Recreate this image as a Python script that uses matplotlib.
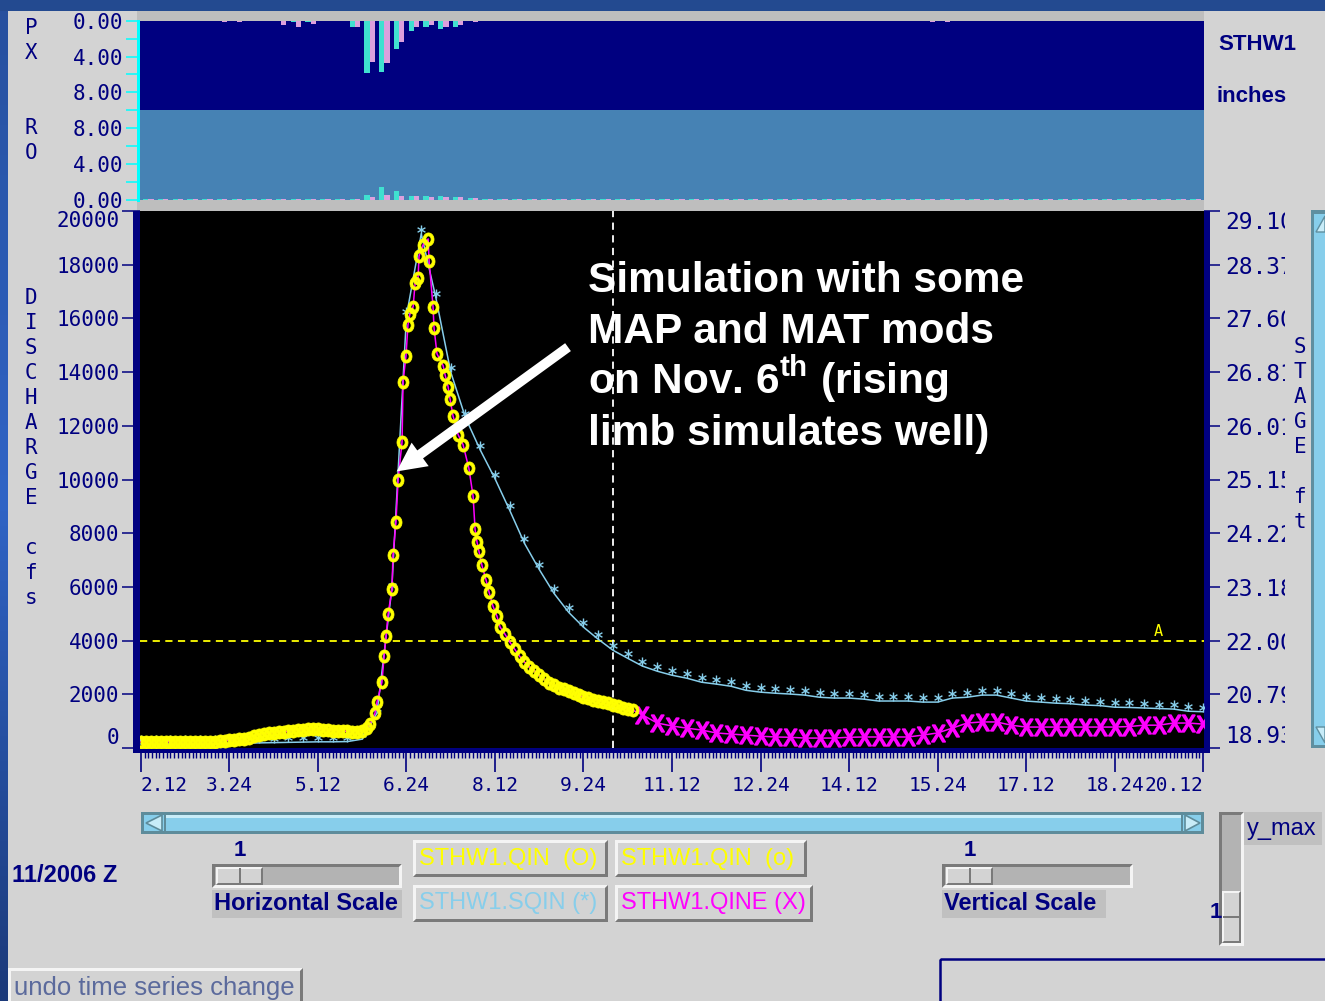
import matplotlib
matplotlib.use('Agg')
import matplotlib.pyplot as plt
from matplotlib.patches import Rectangle, Polygon
from matplotlib.ticker import MultipleLocator
from matplotlib.colors import LinearSegmentedColormap
from matplotlib.path import Path
import numpy as np

W, H = 1325, 1001

plt.rcParams['mathtext.fontset'] = 'custom'
plt.rcParams['mathtext.rm'] = 'Liberation Sans:bold'
plt.rcParams['mathtext.tt'] = 'DejaVu Sans Mono'

NAVY = '#000080'
PANEL = '#d3d3d3'
BAND = '#bebebe'
YELLOW = '#ffff00'
SKY = '#87ceeb'
MAGENTA = '#ff00ff'
CYAN = '#00ffff'
TURQ = '#40e0d0'
PLUM = '#dda0dd'
MONO = 'DejaVu Sans Mono'
SANS = 'Liberation Sans'

# ---------------- data ----------------
# time axis in hours after Nov 2 12Z, labelled day.hour every 36 h
time_labels = ['2.12', '3.24', '5.12', '6.24', '8.12', '9.24', '11.12',
               '12.24', '14.12', '15.24', '17.12', '18.24', '20.12']
label_step_h = 36
flow_ticks = [0, 2000, 4000, 6000, 8000, 10000, 12000, 14000, 16000, 18000, 20000]
stage_labels = ['18.93', '20.79', '22.00', '23.18', '24.22', '25.15',
                '26.01', '26.81', '27.60', '28.37', '29.10']
flood_flow = 4000
flood_mark_h = 413.7
forecast_start_h = 192
px_ticks = [0, 2, 4, 6, 8, 10]
px_labels = ['0.00', '', '4.00', '', '8.00', '']
ro_ticks = [0, 2, 4, 6, 8]
ro_labels = ['0.00', '', '4.00', '', '8.00']

# observed discharge STHW1.QIN
obs_hours = [0, 2, 4, 6, 8, 10, 12, 14, 16, 18,
             20, 22, 24, 26, 28, 30, 32, 34, 36, 38,
             40, 42, 44, 46, 48, 50, 52, 54, 56, 58,
             60, 62, 64, 66, 68, 70, 72, 74, 76, 78,
             80, 82, 84, 86, 88, 90, 92,
             93.2, 95.2, 96.0, 98.0, 98.9, 99.7, 100.5, 102.1, 102.5, 103.7,
             104.6, 106.2, 106.6, 107.8, 108.6, 109.4, 110.7, 111.5, 112.7, 113.1,
             114.7, 116.8, 117.2, 118.8, 119.2, 120.4, 122.9, 123.7, 124.9, 125.7,
             126.9, 129.0, 131.0, 133.4, 135.1, 135.9, 136.7, 137.5, 138.7, 140.4,
             141.6, 143.2, 144.8, 146.1,
             148, 150, 152, 154, 156, 158, 160, 162, 164, 166,
             168, 170, 172, 174, 176, 178, 180, 182, 184, 186,
             188, 190, 192, 194, 196, 198, 200]
obs_cfs = [230, 230, 220, 220, 220, 230, 230, 220, 220, 220,
           230, 230, 220, 220, 230, 240, 250, 270, 290, 300,
           320, 340, 380, 440, 500, 530, 550, 570, 590, 600,
           620, 640, 660, 680, 690, 700, 690, 680, 660, 650,
           640, 630, 620, 610, 600, 620, 750,
           900, 1300, 1710, 2450, 3420, 4160, 4980, 5910, 7170, 8400,
           10000, 11410, 13640, 14610, 15760, 16170, 16430, 17320, 17510, 18320,
           18730, 18960, 18140, 16430, 15650, 14680, 14240, 13900, 13460, 13010,
           12380, 11670, 11300, 10410, 9370, 8140, 7660, 7320, 6800, 6240,
           5800, 5280, 4910, 4500,
           4250, 3950, 3680, 3420, 3200, 3020, 2870, 2720, 2560, 2430,
           2330, 2250, 2180, 2110, 2040, 1960, 1900, 1850, 1800, 1760,
           1720, 1680, 1620, 1560, 1500, 1450, 1410]

# simulated discharge STHW1.SQIN, 6-hourly
sim_hours = list(range(0, 433, 6))
sim_cfs = [150, 150, 150, 150, 160, 160, 170, 180, 190, 200,
           210, 220, 230, 230, 240, 330, 1300, 5900, 16100, 19150,
           16750, 14000, 12300, 11100, 10030, 8850, 7620, 6650, 5760, 5050,
           4500, 4050, 3640, 3340, 3050, 2860, 2710, 2600, 2450, 2380,
           2300, 2150, 2080, 2040, 2010, 1970, 1890, 1860, 1860, 1820,
           1750, 1750, 1750, 1710, 1710, 1860, 1890, 1970, 1970, 1860,
           1750, 1710, 1670, 1650, 1600, 1580, 1520, 1510, 1490, 1470,
           1450, 1370, 1350]

# extended observed series STHW1.QINE beyond the last observation
qine_hours = list(range(204, 433, 6))
qine_cfs = [1230, 930, 820, 740, 670, 560, 520, 480, 440, 410,
            400, 370, 370, 370, 400, 410, 410, 410, 410, 480,
            560, 740, 930, 970, 970, 850, 780, 780, 780, 780,
            780, 780, 780, 800, 850, 850, 930, 930, 890]

# 6-hourly precipitation (PX) and runoff (RO), two estimates each
period_hours = list(range(3, 432, 6))
px_a = [0, 0, 0, 0, 0, 0, 0, 0, 0, 0,
        0.15, 0.1, 0, 0, 0.7, 5.8, 5.7, 3.2, 1.1, 0.7,
        0.9, 0.7, 0, 0, 0, 0, 0, 0, 0, 0,
        0, 0, 0, 0, 0, 0, 0, 0, 0, 0,
        0, 0, 0, 0, 0, 0, 0, 0, 0, 0,
        0, 0, 0, 0, 0, 0, 0, 0, 0, 0,
        0, 0, 0, 0, 0, 0, 0, 0, 0, 0,
        0, 0]
px_b = [0, 0, 0, 0, 0, 0.15, 0.15, 0, 0, 0.5,
        0.7, 0.35, 0, 0, 0.7, 4.6, 4.7, 2.4, 0.7, 0.5,
        0.7, 0.5, 0.15, 0, 0, 0, 0, 0, 0, 0,
        0, 0, 0, 0, 0, 0, 0, 0, 0, 0,
        0, 0, 0, 0, 0, 0, 0, 0, 0, 0,
        0, 0, 0, 0.1, 0.1, 0, 0, 0, 0, 0,
        0, 0, 0, 0, 0, 0, 0, 0, 0, 0,
        0, 0]
ro_a = [0.1, 0.1, 0.1, 0.1, 0.1, 0.1, 0.1, 0.1, 0.1, 0.1,
        0.1, 0.1, 0.1, 0.1, 0.1, 0.6, 1.4, 1.0, 0.5, 0.4,
        0.4, 0.3, 0.2, 0.1, 0.1, 0.1, 0.1, 0.1, 0.1, 0.1,
        0.1, 0.1, 0.1, 0.1, 0.1, 0.1, 0.1, 0.1, 0.1, 0.1,
        0.1, 0.1, 0.1, 0.1, 0.1, 0.1, 0.1, 0.1, 0.1, 0.1,
        0.1, 0.1, 0.1, 0.1, 0.1, 0.1, 0.1, 0.1, 0.1, 0.1,
        0.1, 0.1, 0.1, 0.1, 0.1, 0.1, 0.1, 0.1, 0.1, 0.1,
        0.1, 0.1]
ro_b = [0.1, 0.1, 0.1, 0.1, 0.1, 0.1, 0.1, 0.1, 0.1, 0.1,
        0.1, 0.1, 0.1, 0.1, 0.1, 0.3, 0.6, 0.5, 0.4, 0.3,
        0.3, 0.3, 0.2, 0.1, 0.1, 0.1, 0.1, 0.1, 0.1, 0.1,
        0.1, 0.1, 0.1, 0.1, 0.1, 0.1, 0.1, 0.1, 0.1, 0.1,
        0.1, 0.1, 0.1, 0.1, 0.1, 0.1, 0.1, 0.1, 0.1, 0.1,
        0.1, 0.1, 0.1, 0.1, 0.1, 0.1, 0.1, 0.1, 0.1, 0.1,
        0.1, 0.1, 0.1, 0.1, 0.1, 0.1, 0.1, 0.1, 0.1, 0.1,
        0.1, 0.1]

x_range = (-0.4, 432.4)

# ---------------- figure and helpers ----------------
fig = plt.figure(figsize=(W / 100, H / 100), dpi=100)
fig.patch.set_facecolor(PANEL)


def box(x0, y0, x1, y1):
    # pixel box (top-left origin) -> figure fraction rectangle
    return [x0 / W, 1 - y1 / H, (x1 - x0) / W, (y1 - y0) / H]


bg = fig.add_axes([0, 0, 1, 1], zorder=-5)
bg.axis('off')

# blue desktop edges
edge_cmap = LinearSegmentedColormap.from_list('edge', ['#27509e', '#2f64c6', '#1c3a7a'])
bg.imshow(np.linspace(0, 1, 200).reshape(-1, 1), cmap=edge_cmap, extent=(0, 8, H, 0),
          aspect='auto', origin='upper')
bg.set_xlim(0, W)
bg.set_ylim(H, 0)


def rect(x0, y0, x1, y1, fc, ec='none', lw=0, z=1, target=None):
    (target or bg).add_patch(Rectangle((x0, y0), x1 - x0, y1 - y0, fc=fc, ec=ec, lw=lw, zorder=z))


def bevel(x0, y0, x1, y1, face, raised=True, t=3, z=1):
    light, dark = ('#f4f4f4', '#7a7a7a') if raised else ('#7a7a7a', '#f4f4f4')
    rect(x0, y0, x1, y1, face, z=z)
    bg.add_patch(Polygon([(x0, y1), (x0, y0), (x1, y0), (x1 - t, y0 + t), (x0 + t, y0 + t), (x0 + t, y1 - t)],
                         fc=light, ec='none', zorder=z + 0.1))
    bg.add_patch(Polygon([(x1, y0), (x1, y1), (x0, y1), (x0 + t, y1 - t), (x1 - t, y1 - t), (x1 - t, y0 + t)],
                         fc=dark, ec='none', zorder=z + 0.1))


def gui_text(x, y, s, size=17, color=NAVY, weight='normal', family=SANS, ha='left', target=None):
    (target or bg).text(x, y, s, fontsize=size, color=color, fontweight=weight, family=family,
                        ha=ha, va='center', zorder=5)


rect(0, 0, W, 11, '#234a90')

# bands and axis line around the precipitation / runoff strips
rect(137, 11, 1204, 21, BAND)
rect(137, 200, 1204, 211, BAND)
rect(137, 20, 140, 202, CYAN, z=2)

# frame around the hydrograph
rect(133, 211, 140, 753, NAVY)
rect(1204, 211, 1210, 753, NAVY)
rect(133, 748, 1210, 753, NAVY)

# side scrollbar
rect(1311, 210, 1325, 748, '#5f8fa0')
rect(1314, 214, 1325, 745, SKY)
bg.add_patch(Polygon([(1316, 232), (1325, 216), (1325, 232)], fc='#c8ecf8', ec='#5f8fa0', lw=1, zorder=2))
bg.add_patch(Polygon([(1316, 727), (1325, 743), (1325, 727)], fc='#c8ecf8', ec='#5f8fa0', lw=1, zorder=2))

# horizontal scrollbar
rect(141, 812, 1204, 834, '#5e8c9b')
rect(144, 815, 1201, 831, SKY)
rect(166, 815, 1181, 818, '#c8ecf8', z=2)
rect(164, 815, 166, 831, '#5e8c9b', z=2)
rect(1181, 815, 1183, 831, '#5e8c9b', z=2)
bg.add_patch(Polygon([(146, 823), (162, 815), (162, 831)], fc='#c8ecf8', ec='#5e8c9b', lw=1.2, zorder=3))
bg.add_patch(Polygon([(1200, 823), (1185, 815), (1185, 831)], fc='#c8ecf8', ec='#5e8c9b', lw=1.2, zorder=3))

# scale sliders
for x0, x1, tx, label in [(212, 402, 240, 'Horizontal Scale'), (942, 1133, 970, 'Vertical Scale')]:
    bevel(x0, 864, x1, 888, '#b3b3b3', raised=False)
    bevel(x0 + 4, 867, x0 + 51, 885, PANEL, t=2, z=2)
    rect(x0 + 27, 868, x0 + 28.5, 884, '#7a7a7a', z=3)
    gui_text(tx, 850, '1', size=16, weight='bold', ha='center')
    rect(x0, 890, x0 + (190 if x0 == 212 else 164), 918, '#c0c0c0')
    gui_text(x0 + 2, 904, label, weight='bold')

bevel(1219, 812, 1244, 946, '#b3b3b3', raised=False)
bevel(1222, 891, 1241, 943, PANEL, t=2, z=2)
rect(1223, 916, 1240, 917.5, '#7a7a7a', z=3)
gui_text(1216, 913, '1', size=16, weight='bold', ha='center')
rect(1244, 812, 1322, 845, '#c0c0c0')
gui_text(1247, 829, 'y_max')

# series buttons
buttons = [(413, 840, 608, 877, 'STHW1.QIN  (O)', YELLOW),
           (615, 840, 807, 877, 'STHW1.QIN  (o)', YELLOW),
           (413, 885, 608, 922, 'STHW1.SQIN (*)', SKY),
           (615, 885, 813, 922, 'STHW1.QINE (X)', MAGENTA)]
for x0, y0, x1, y1, label, col in buttons:
    bevel(x0, y0, x1, y1, PANEL, t=3)
    gui_text(x0 + 6, (y0 + y1) / 2, label, color=col)

gui_text(12, 875, '11/2006 Z', weight='bold')
bevel(8, 968, 303, 1006, PANEL, t=3)
gui_text(14, 988, 'undo time series change', size=18.5, color='#5b6a9c')
bg.add_patch(Rectangle((940, 959), 400, 60, fc='none', ec=NAVY, lw=1.8, zorder=2))

gui_text(1218, 45, 'STHW1', size=16, weight='bold')
gui_text(1216, 97, 'inches', size=16, weight='bold')

# vertical axis captions
for i, ch in enumerate('PX'):
    gui_text(31, 28 + 25 * i, ch, size=15, family=MONO, ha='center')
for i, ch in enumerate('RO'):
    gui_text(31, 128 + 25 * i, ch, size=15, family=MONO, ha='center')
for i, ch in enumerate('DISCHARGE'):
    gui_text(31, 298 + 25 * i, ch, size=15, family=MONO, ha='center')
for i, ch in enumerate('cfs'):
    gui_text(31, 548 + 25 * i, ch, size=15, family=MONO, ha='center')

# ---------------- precipitation / runoff strips ----------------
hrs = np.array(period_hours)
ax_px = fig.add_axes(box(140, 21, 1204, 110))
ax_px.set_facecolor('#000080')
ax_px.bar(hrs - 1.05, px_a, width=2.1, color=TURQ)
ax_px.bar(hrs + 1.05, px_b, width=2.1, color=PLUM)
ax_px.set_xlim(*x_range)
ax_px.set_ylim(10, 0)
ax_px.set_yticks(px_ticks)
ax_px.set_yticklabels(px_labels)

ax_ro = fig.add_axes(box(140, 110, 1204, 200))
ax_ro.set_facecolor('#4682b4')
ax_ro.bar(hrs - 1.05, ro_a, width=2.1, color=TURQ)
ax_ro.bar(hrs + 1.05, ro_b, width=2.1, color=PLUM)
ax_ro.set_xlim(*x_range)
ax_ro.set_ylim(0, 10)
ax_ro.set_yticks(ro_ticks)
ax_ro.set_yticklabels(ro_labels)

for a in (ax_px, ax_ro):
    for s in a.spines.values():
        s.set_visible(False)
    a.set_xticks([])
    a.tick_params(axis='y', length=10, width=1.1, color=CYAN, pad=2,
                  labelsize=15, labelcolor=NAVY, labelfontfamily=MONO)

# ---------------- hydrograph ----------------
ax = fig.add_axes(box(140, 211, 1204, 748))
ax.set_facecolor('black')
ax.set_xlim(*x_range)
ax.set_ylim(0, 20000)
for s in ax.spines.values():
    s.set_visible(False)

ax.axhline(flood_flow, color=YELLOW, lw=1.3, ls=(0, (4, 3)), zorder=2)
ax.axvline(forecast_start_h, color='white', lw=1.3, ls=(0, (4, 3)), zorder=2)
ax.annotate('A', xy=(flood_mark_h, flood_flow), xytext=(0, 1), textcoords='offset points',
            ha='center', va='bottom', color=YELLOW, fontsize=11, family=MONO)

# asterisk that sits on top of its data point
star = Path([(0, 0), (0, 1), (-0.433, 0.25), (0.433, 0.75), (-0.433, 0.75), (0.433, 0.25)],
            [Path.MOVETO, Path.LINETO, Path.MOVETO, Path.LINETO, Path.MOVETO, Path.LINETO])

# tall elliptical ring used for the observed points
t = np.linspace(0, 2 * np.pi, 40)
outer = np.column_stack([0.42 * np.cos(t), 0.5 * np.sin(t)])
inner = np.column_stack([0.2 * np.cos(t[::-1]), 0.27 * np.sin(t[::-1])])
ring = Path(np.vstack([outer, inner]),
            [Path.MOVETO] + [Path.LINETO] * 39 + [Path.MOVETO] + [Path.LINETO] * 39)

ax.plot(sim_hours, sim_cfs, color=SKY, lw=1.1, marker=star, ms=13, mec=SKY, mew=1.0,
        fillstyle='none', zorder=3)
ax.plot(obs_hours + qine_hours, obs_cfs + qine_cfs, color=MAGENTA, lw=1.1, zorder=4)
ax.plot(qine_hours, qine_cfs, ls='none', marker=r'$\mathtt{X}$', ms=12, color=MAGENTA,
        mec=MAGENTA, mew=1.2, zorder=4)
ax.plot(obs_hours, obs_cfs, ls='none', marker=ring, ms=9.5, mfc=YELLOW,
        mec=YELLOW, mew=0.5, zorder=5)

ax.set_xticks([i * label_step_h for i in range(len(time_labels))])
ax.set_xticklabels(time_labels)
ax.xaxis.set_minor_locator(MultipleLocator(1.5))
ax.tick_params(axis='x', which='major', length=17, width=1.2, color=NAVY, pad=3.5,
               labelsize=14, labelcolor=NAVY, labelfontfamily=MONO)
ax.tick_params(axis='x', which='minor', length=7, width=1.0, color=NAVY)
xl = ax.get_xticklabels()
xl[0].set_ha('left')
xl[-1].set_ha('right')

ax.set_yticks(flow_ticks)
ax.set_yticklabels([str(v) for v in flow_ticks])
ax.tick_params(axis='y', length=13, width=1.1, color=NAVY, pad=2,
               labelsize=15, labelcolor=NAVY, labelfontfamily=MONO)
yl = ax.get_yticklabels()
yl[0].set_va('bottom')
yl[-1].set_va('top')

ax2 = ax.twinx()
ax2.set_ylim(0, 20000)
for s in ax2.spines.values():
    s.set_visible(False)
ax2.set_yticks(flow_ticks)
ax2.set_yticklabels(stage_labels)
ax2.tick_params(axis='y', length=11.5, width=1.1, color=NAVY, pad=3.5,
                labelsize=16.5, labelcolor=NAVY, labelfontfamily=MONO)
sl = ax2.get_yticklabels()
sl[0].set_va('bottom')
sl[-1].set_va('top')

ax.annotate('', xy=(104, 10300), xytext=(173.7, 14930),
            arrowprops=dict(arrowstyle='simple,head_length=0.95,head_width=0.95,tail_width=0.32',
                            fc='white', ec='none', mutation_scale=22, shrinkA=0, shrinkB=0),
            zorder=6)

# ---------------- top overlay ----------------
top = fig.add_axes([0, 0, 1, 1], zorder=10)
top.patch.set_visible(False)
top.axis('off')
top.set_xlim(0, W)
top.set_ylim(H, 0)

# stage labels are cut off by the side scrollbar
rect(1285, 205, 1311, 760, PANEL, target=top)
for i, ch in enumerate('STAGE'):
    gui_text(1300, 347 + 25 * i, ch, size=15, family=MONO, ha='center', target=top)
for i, ch in enumerate('ft'):
    gui_text(1300, 497 + 25 * i, ch, size=15, family=MONO, ha='center', target=top)

note_lines = ['Simulation with some', 'MAP and MAT mods',
              r'on Nov. 6$^{\mathrm{th}}$ (rising', 'limb simulates well)']
for i, line in enumerate(note_lines):
    top.text(588, 292 + 51 * i, line, fontsize=30.5, fontweight='bold', family=SANS,
             color='white', ha='left', va='baseline')

fig.savefig('out.png', dpi=100, facecolor=fig.get_facecolor())
